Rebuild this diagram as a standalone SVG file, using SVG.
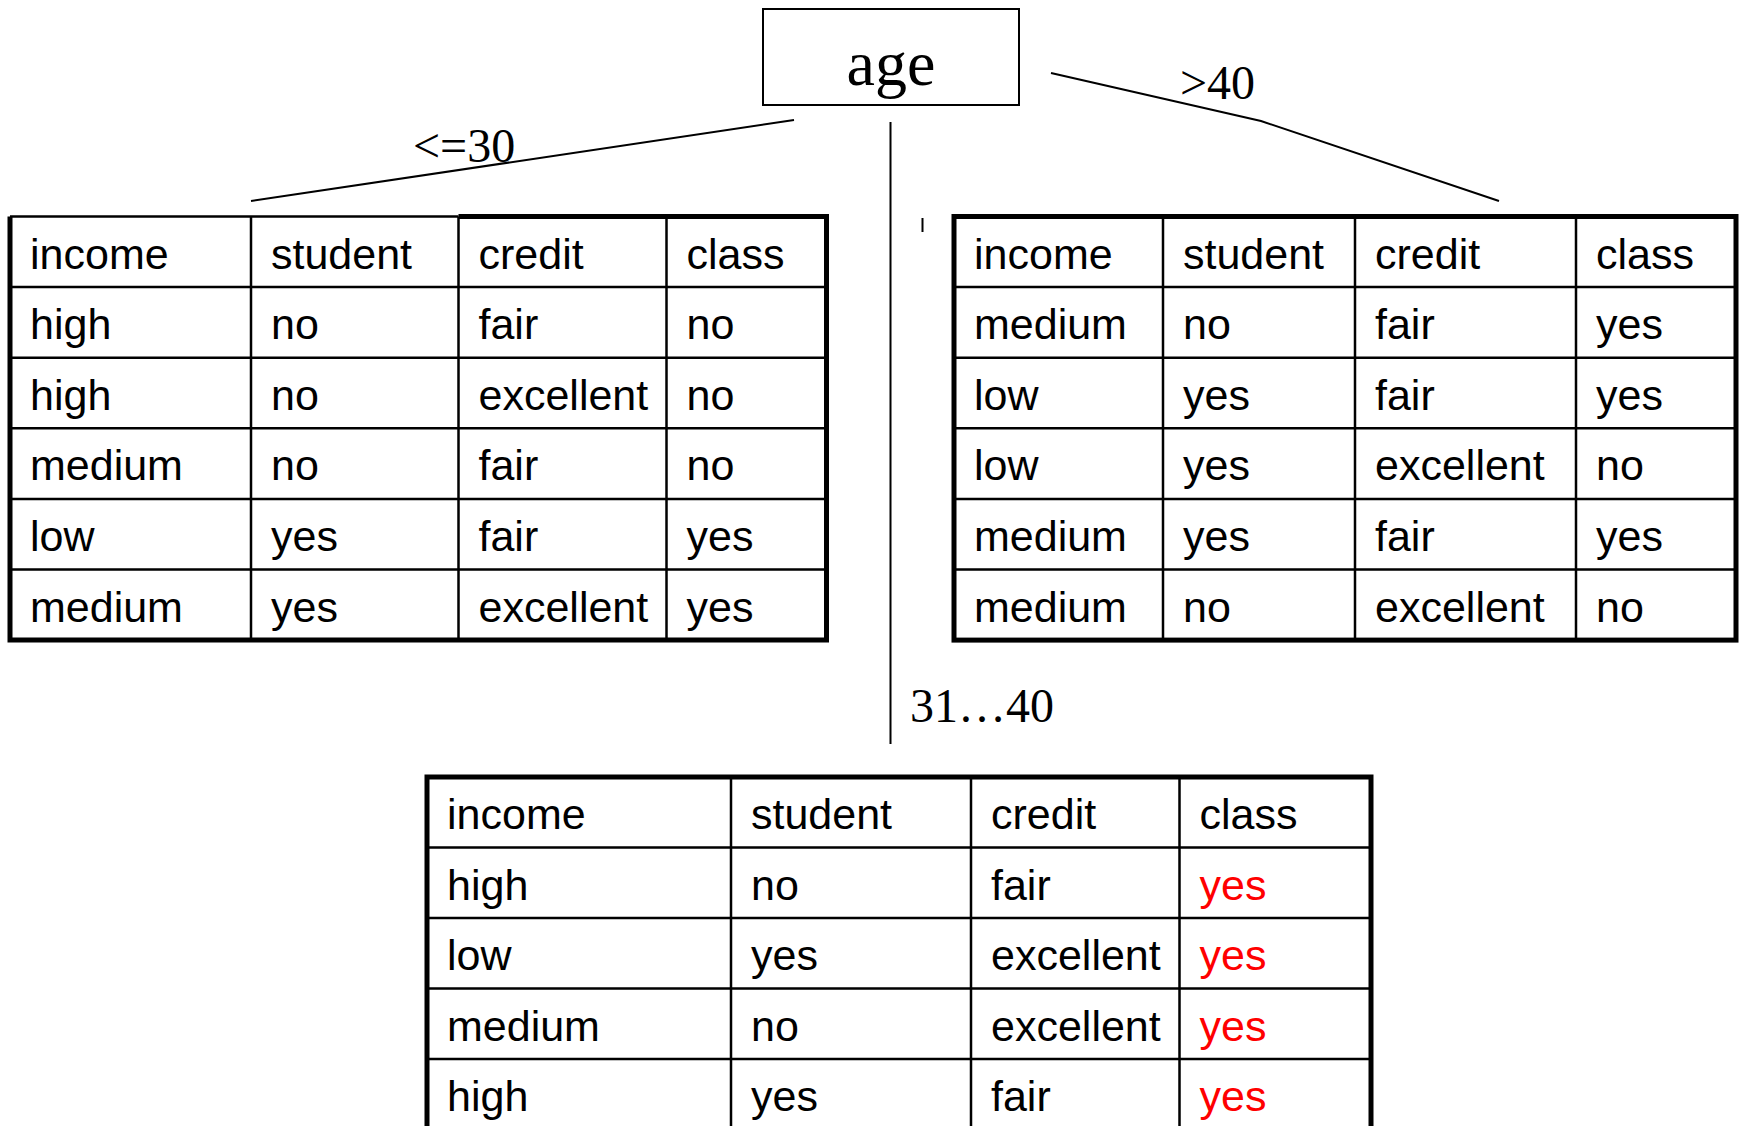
<svg xmlns="http://www.w3.org/2000/svg" width="1739" height="1126" viewBox="0 0 1739 1126">
<style>
.t{font-family:"Liberation Sans",Arial,sans-serif;font-size:43px;fill:#000}
.r{fill:#ff0000}
.lab{font-family:"Liberation Serif","Times New Roman",serif;font-size:48px;fill:#000}
.in{stroke:#000;stroke-width:2.5;fill:none}
.out{stroke:#000;stroke-width:5;fill:none}
.con{stroke:#000;stroke-width:2;fill:none}
</style>
<rect width="1739" height="1126" fill="#fff"/>
<g id="connectors">
<path class="con" d="M794,120 L251,201"/>
<path class="con" d="M890.5,122 L890.5,744"/>
<path class="con" d="M1051,73 L1261,121 L1499,201"/>
<path class="con" d="M922.5,218 L922.5,232"/>
<text class="lab" x="413" y="162">&lt;=30</text>
<text class="lab" x="1180" y="99">&gt;40</text>
<text class="lab" x="910" y="722">31…40</text>
</g>
<g id="node-age">
<rect x="763" y="9" width="256" height="96" fill="#fff" stroke="#000" stroke-width="2"/>
<text x="891" y="85" text-anchor="middle" style="font-family:'Liberation Serif','Times New Roman',serif;font-size:64px">age</text>
</g>
<g id="table-left">
<path class="in" d="M10,287.1H826.5M10,357.7H826.5M10,428.3H826.5M10,498.9H826.5M10,569.5H826.5M251,216.5V640M458.5,216.5V640M666.5,216.5V640"/>
<path class="in" d="M10,216.5H458.5" stroke="#333"/>
<path class="out" d="M458.5,216.5H826.5V640.1H10V216.5"/>
<g class="t">
<text x="30" y="268.5">income</text><text x="271" y="268.5">student</text><text x="478.5" y="268.5">credit</text><text x="686.5" y="268.5">class</text>
<text x="30" y="339.1">high</text><text x="271" y="339.1">no</text><text x="478.5" y="339.1">fair</text><text x="686.5" y="339.1">no</text>
<text x="30" y="409.7">high</text><text x="271" y="409.7">no</text><text x="478.5" y="409.7">excellent</text><text x="686.5" y="409.7">no</text>
<text x="30" y="480.3">medium</text><text x="271" y="480.3">no</text><text x="478.5" y="480.3">fair</text><text x="686.5" y="480.3">no</text>
<text x="30" y="550.9">low</text><text x="271" y="550.9">yes</text><text x="478.5" y="550.9">fair</text><text x="686.5" y="550.9">yes</text>
<text x="30" y="621.5">medium</text><text x="271" y="621.5">yes</text><text x="478.5" y="621.5">excellent</text><text x="686.5" y="621.5">yes</text>
</g>
</g>
<g id="table-right">
<path class="in" d="M954,287.1H1736M954,357.7H1736M954,428.3H1736M954,498.9H1736M954,569.5H1736M1163,216.5V640M1355,216.5V640M1576,216.5V640"/>
<rect class="out" x="954" y="216.5" width="782" height="423.6"/>
<g class="t">
<text x="974" y="268.5">income</text><text x="1183" y="268.5">student</text><text x="1375" y="268.5">credit</text><text x="1596" y="268.5">class</text>
<text x="974" y="339.1">medium</text><text x="1183" y="339.1">no</text><text x="1375" y="339.1">fair</text><text x="1596" y="339.1">yes</text>
<text x="974" y="409.7">low</text><text x="1183" y="409.7">yes</text><text x="1375" y="409.7">fair</text><text x="1596" y="409.7">yes</text>
<text x="974" y="480.3">low</text><text x="1183" y="480.3">yes</text><text x="1375" y="480.3">excellent</text><text x="1596" y="480.3">no</text>
<text x="974" y="550.9">medium</text><text x="1183" y="550.9">yes</text><text x="1375" y="550.9">fair</text><text x="1596" y="550.9">yes</text>
<text x="974" y="621.5">medium</text><text x="1183" y="621.5">no</text><text x="1375" y="621.5">excellent</text><text x="1596" y="621.5">no</text>
</g>
</g>
<g id="table-middle">
<path class="in" d="M427,847.5H1371M427,918H1371M427,988.5H1371M427,1059H1371M731,777V1140M971,777V1140M1179.5,777V1140"/>
<rect class="out" x="427" y="777" width="944" height="360"/>
<g class="t">
<text x="447" y="829">income</text><text x="751" y="829">student</text><text x="991" y="829">credit</text><text x="1199.5" y="829">class</text>
<text x="447" y="899.5">high</text><text x="751" y="899.5">no</text><text x="991" y="899.5">fair</text><text class="r" x="1199.5" y="899.5">yes</text>
<text x="447" y="970">low</text><text x="751" y="970">yes</text><text x="991" y="970">excellent</text><text class="r" x="1199.5" y="970">yes</text>
<text x="447" y="1040.5">medium</text><text x="751" y="1040.5">no</text><text x="991" y="1040.5">excellent</text><text class="r" x="1199.5" y="1040.5">yes</text>
<text x="447" y="1111">high</text><text x="751" y="1111">yes</text><text x="991" y="1111">fair</text><text class="r" x="1199.5" y="1111">yes</text>
</g>
</g>
</svg>
